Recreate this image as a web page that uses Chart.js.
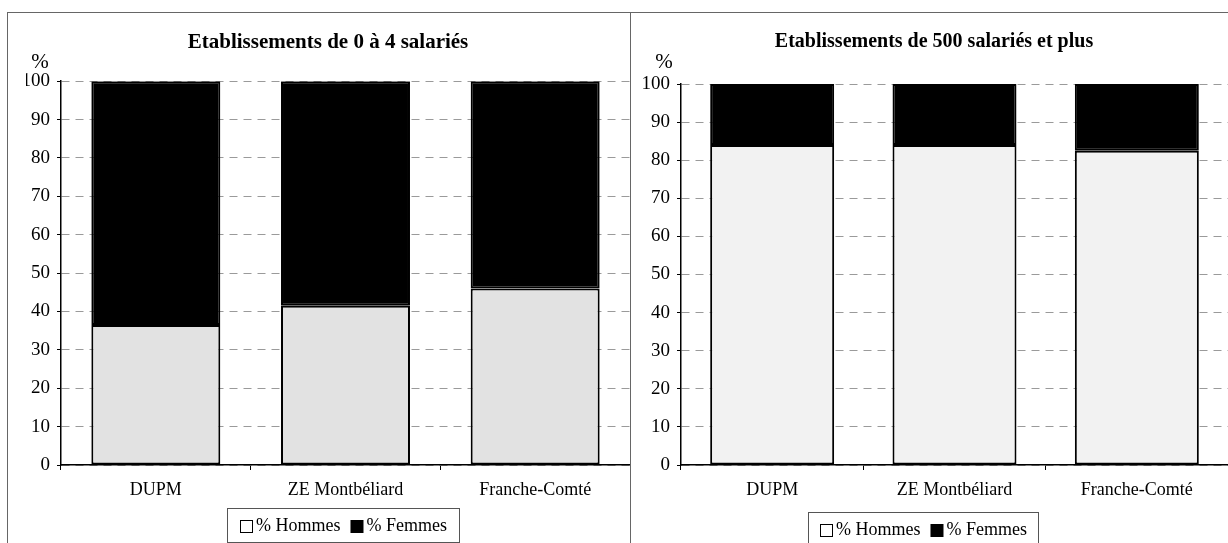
<!DOCTYPE html>
<html>
<head>
<meta charset="utf-8">
<script src="https://cdn.jsdelivr.net/npm/chart.js@4.4.1/dist/chart.umd.min.js"></script>
<style>
    body { margin: 0; background: #fff; width: 1228px; height: 543px; overflow: hidden; position: relative; }
    .panel { position: absolute; top: 12px; height: 560px; border: 1px solid #666; }
    canvas { position: absolute; }
</style>
</head>
<body>
<div class="panel" style="left:7px; width:622px;"></div>
<div class="panel" style="left:630px; width:640px;"></div>
<canvas id="chartSmall" style="left:8px; top:13px;" width="622" height="530"></canvas>
<canvas id="chartLarge" style="left:631px; top:13px;" width="597" height="530"></canvas>
<script>
// Data
const categories = ['DUPM', 'ZE Montbéliard', 'Franche-Comté'];
const seriesNames = ['% Hommes', '% Femmes'];
const titles = ['Etablissements de 0 à 4 salariés', 'Etablissements de 500 salariés et plus'];

const smallHommes = [36.5, 41.5, 46];
const smallFemmes = [63.5, 58.5, 54];
const largeHommes = [84, 84, 82.5];
const largeFemmes = [16, 16, 17.5];

const SERIF = '"Liberation Serif", "Times New Roman", serif';

// draws the "%" above the y axis and the boxed legend under the chart
const extras = {
    id: 'extras',
    afterDraw(chart, args, opts) {
        const ctx = chart.ctx;
        ctx.save();
        ctx.fillStyle = '#000';
        ctx.font = '21px ' + SERIF;
        ctx.textAlign = 'center';
        ctx.textBaseline = 'middle';
        ctx.fillText('%', opts.pctX, opts.pctY);

        // legend
        ctx.font = '18px ' + SERIF;
        const sets = chart.data.datasets;
        const box = 12, gap = 4, sep = 10;
        let w = 0;
        sets.forEach((ds, i) => {
            w += box + gap + ctx.measureText(ds.label).width + (i < sets.length - 1 ? sep : 0);
        });
        const lw = opts.legendW;
        const left = Math.round(opts.legendX - lw / 2);
        ctx.strokeStyle = '#555';
        ctx.lineWidth = 1;
        ctx.strokeRect(left + 0.5, opts.legendY + 0.5, lw, opts.legendH);

        let x = Math.round(opts.legendX - w / 2);
        const cy = opts.legendY + opts.legendH / 2 + 1;
        ctx.textAlign = 'left';
        sets.forEach(ds => {
            ctx.fillStyle = ds.legendFill;
            ctx.fillRect(x + 0.5, Math.round(cy - box / 2) + 0.5, box, box);
            ctx.strokeStyle = '#000';
            ctx.strokeRect(x + 0.5, Math.round(cy - box / 2) + 0.5, box, box);
            x += box + gap;
            ctx.fillStyle = '#000';
            ctx.fillText(ds.label, x, cy);
            x += ctx.measureText(ds.label).width + sep;
        });
        ctx.restore();
    }
};

function makeChart(id, title, hommes, femmes, cfg) {
    return new Chart(document.getElementById(id), {
        type: 'bar',
        data: {
            labels: categories,
            datasets: [{
                label: seriesNames[0],
                data: hommes,
                backgroundColor: cfg.menFill,
                legendFill: '#fff',
                borderColor: '#000',
                borderWidth: 2,
                borderSkipped: false
            }, {
                label: seriesNames[1],
                data: femmes,
                backgroundColor: '#000',
                legendFill: '#000',
                borderColor: '#000',
                borderWidth: 2,
                borderSkipped: false
            }]
        },
        options: {
            responsive: false,
            animation: false,
            barPercentage: 1,
            categoryPercentage: 0.68,
            layout: { padding: { left: cfg.padLeft, right: 0, top: 0, bottom: 0 } },
            plugins: {
                legend: { display: false },
                tooltip: { enabled: false },
                title: {
                    display: true,
                    text: title,
                    color: '#000',
                    font: { family: SERIF, size: cfg.titleSize, weight: 'bold' },
                    padding: { top: 17, bottom: cfg.titleBottom }
                },
                extras: cfg.extras
            },
            scales: {
                x: {
                    stacked: true,
                    grid: { display: true, drawOnChartArea: false, color: '#000', tickLength: 5 },
                    border: { display: true, color: '#000', width: 1.5 },
                    ticks: { color: '#000', padding: 9, font: { family: SERIF, size: 18 } },
                    afterFit: s => { s.height = 78; }
                },
                y: {
                    stacked: true,
                    min: 0,
                    max: 100,
                    grid: { color: '#9a9a9a', tickColor: '#000', tickLength: 4 },
                    border: { display: true, color: '#000', width: 1.5, dash: [8, 6] },
                    ticks: { stepSize: 10, color: '#000', padding: 7, font: { family: SERIF, size: 19 } },
                    afterFit: s => { s.width = cfg.yWidth; }
                }
            }
        },
        plugins: [extras]
    });
}

makeChart('chartSmall', titles[0], smallHommes, smallFemmes, {
    menFill: '#e2e2e2',
    padLeft: 18,
    yWidth: 35,
    titleSize: 21,
    titleBottom: 26,
    extras: { pctX: 32, pctY: 49, legendX: 335, legendY: 495, legendW: 232, legendH: 34 }
});

makeChart('chartLarge', titles[1], largeHommes, largeFemmes, {
    menFill: '#f2f2f2',
    padLeft: 9,
    yWidth: 41,
    titleSize: 20,
    titleBottom: 30,
    extras: { pctX: 33, pctY: 49, legendX: 292, legendY: 499, legendW: 230, legendH: 34 }
});
</script>
</body>
</html>
